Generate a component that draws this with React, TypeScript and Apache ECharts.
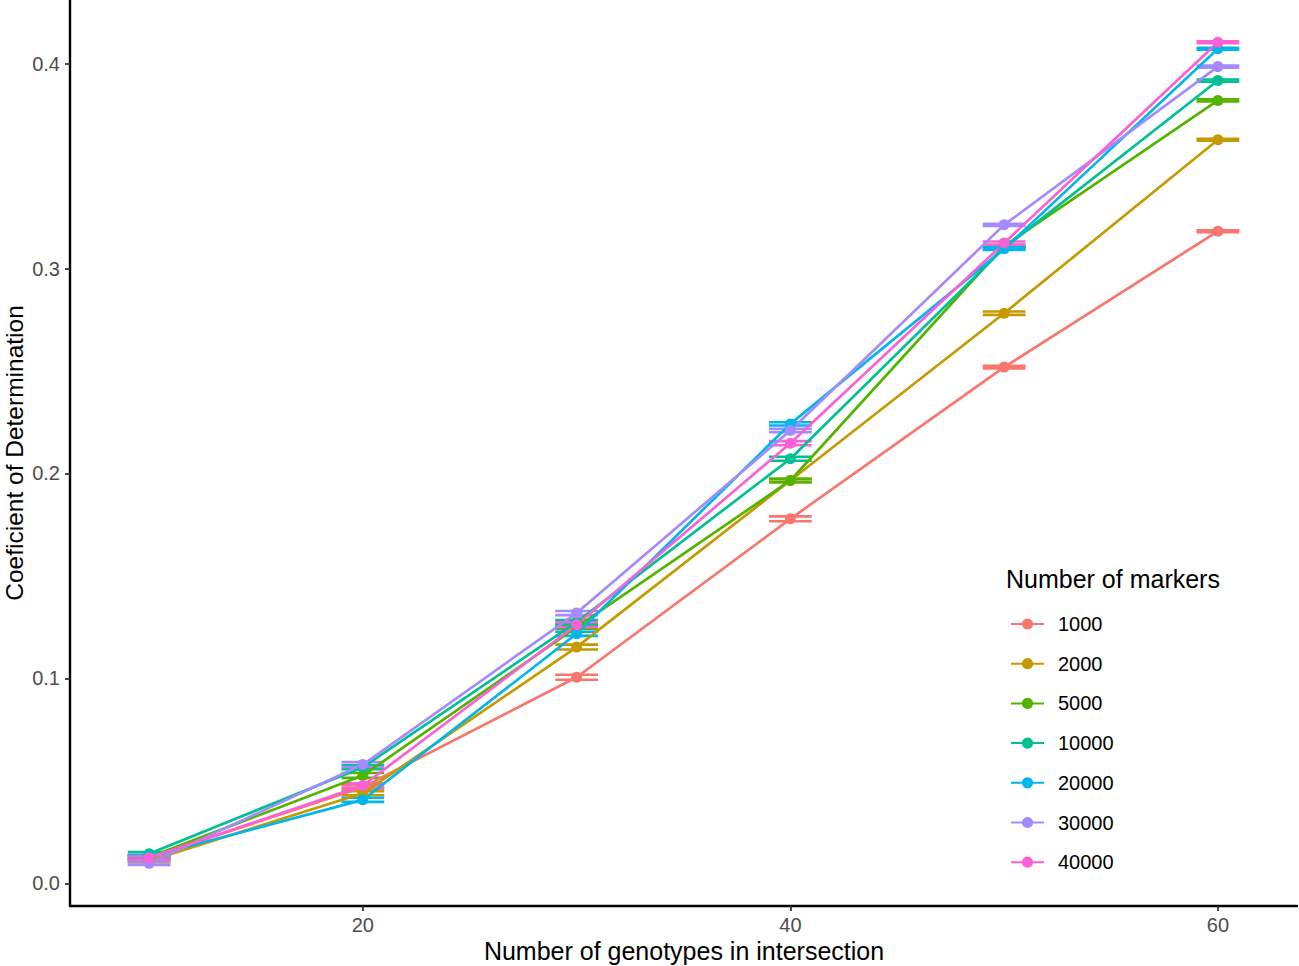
import React, { useEffect, useRef } from "react";
import * as echarts from "echarts";

const xValues = [10, 20, 30, 40, 50, 60];
const markerNames = ["1000", "2000", "5000", "10000", "20000", "30000", "40000"];
const colors = ["#F8766D", "#C49A00", "#53B400", "#00C094", "#00B6EB", "#A58AFF", "#FB61D7"];

const m1000 = [0.0125, 0.047, 0.1006, 0.1779, 0.2519, 0.3182];
const m2000 = [0.011, 0.044, 0.1153, 0.1966, 0.2782, 0.3628];
const m5000 = [0.0128, 0.0527, 0.125, 0.1966, 0.311, 0.382];
const m10000 = [0.0145, 0.0567, 0.1275, 0.2072, 0.31, 0.3917];
const m20000 = [0.013, 0.0408, 0.1218, 0.2242, 0.3096, 0.4072];
const m30000 = [0.0098, 0.058, 0.1319, 0.221, 0.3213, 0.3985];
const m40000 = [0.0125, 0.0478, 0.1262, 0.2148, 0.3124, 0.4104];

const e1000 = [0.0008, 0.001, 0.0012, 0.0012, 0.0006, 0.0005];
const e2000 = [0.0008, 0.001, 0.0012, 0.0008, 0.0008, 0.0005];
const e5000 = [0.0008, 0.0012, 0.0008, 0.0008, 0.0006, 0.0005];
const e10000 = [0.0008, 0.001, 0.001, 0.001, 0.0006, 0.0005];
const e20000 = [0.0008, 0.001, 0.001, 0.0008, 0.0006, 0.0005];
const e30000 = [0.0008, 0.0012, 0.001, 0.0008, 0.0005, 0.0005];
const e40000 = [0.0008, 0.001, 0.0012, 0.001, 0.0008, 0.0005];

const means = [m1000, m2000, m5000, m10000, m20000, m30000, m40000];
const errors = [e1000, e2000, e5000, e10000, e20000, e30000, e40000];

const yTicks = [0, 0.1, 0.2, 0.3, 0.4];
const xTicks = [20, 40, 60];

const FONT = "Liberation Sans, Arial, Helvetica, sans-serif";

export default function App() {
  const ref = useRef<HTMLDivElement>(null);
  useEffect(() => {
    if (!ref.current) return;
    const chart = echarts.init(ref.current, undefined, { renderer: "svg" });

    const errorSeries = markerNames.map((name, i) => ({
      type: "custom",
      name: "eb-" + name,
      data: xValues.map((x, j) => [x, means[i][j] - errors[i][j], means[i][j] + errors[i][j]]),
      z: 1,
      renderItem: (params: any, api: any) => {
        const x = api.value(0);
        const lo = api.value(1);
        const hi = api.value(2);
        const a = api.coord([x - 1, hi]);
        const b = api.coord([x + 1, hi]);
        const c = api.coord([x - 1, lo]);
        const d = api.coord([x + 1, lo]);
        const m1 = api.coord([x, hi]);
        const m2 = api.coord([x, lo]);
        const style = { stroke: colors[i], lineWidth: 2.6, fill: null };
        return {
          type: "group",
          children: [
            { type: "line", shape: { x1: a[0], y1: a[1], x2: b[0], y2: b[1] }, style },
            { type: "line", shape: { x1: c[0], y1: c[1], x2: d[0], y2: d[1] }, style },
            { type: "line", shape: { x1: m1[0], y1: m1[1], x2: m2[0], y2: m2[1] }, style },
          ],
        };
      },
    }));

    const lineSeries = markerNames.map((name, i) => ({
      type: "line",
      name,
      data: xValues.map((x, j) => [x, means[i][j]]),
      symbol: "circle",
      symbolSize: 11,
      showSymbol: true,
      color: colors[i],
      itemStyle: { color: colors[i] },
      lineStyle: { color: colors[i], width: 2.7 },
      z: 2,
    }));

    chart.setOption({
      animation: false,
      backgroundColor: "#ffffff",
      grid: { left: 70, right: 2, top: 0, bottom: 60, containLabel: false },
      xAxis: {
        type: "value",
        min: 6.3,
        max: 63.7,
        splitLine: { show: false },
        axisLine: { show: true, onZero: false, lineStyle: { color: "#000", width: 2.4 } },
        axisTick: { show: true, customValues: xTicks, length: 5, lineStyle: { color: "#333", width: 1.8 } },
        axisLabel: {
          customValues: xTicks,
          margin: 9,
          color: "#4D4D4D",
          fontSize: 20,
          fontFamily: FONT,
        },
      },
      yAxis: {
        type: "value",
        min: -0.011,
        max: 0.431,
        splitLine: { show: false },
        axisLine: { show: true, onZero: false, lineStyle: { color: "#000", width: 2.4 } },
        axisTick: { show: true, customValues: yTicks, length: 5, lineStyle: { color: "#333", width: 1.8 } },
        axisLabel: {
          customValues: yTicks,
          margin: 10,
          color: "#4D4D4D",
          fontSize: 20,
          fontFamily: FONT,
          formatter: (v: number) => v.toFixed(1),
        },
      },
      legend: {
        data: markerNames,
        orient: "vertical",
        left: 1010,
        top: 614,
        padding: 0,
        itemWidth: 33,
        itemHeight: 14,
        itemGap: 19.7,
        textStyle: { fontSize: 20, color: "#000", fontFamily: FONT, padding: [0, 0, 0, 9] },
      },
      graphic: [
        {
          type: "text",
          left: 1006,
          top: 566,
          style: { text: "Number of markers", fontSize: 25, fill: "#000", fontFamily: FONT },
        },
        {
          type: "text",
          x: 684,
          y: 951,
          style: {
            text: "Number of genotypes in intersection",
            fontSize: 25,
            fill: "#000",
            fontFamily: FONT,
            textAlign: "center",
            textVerticalAlign: "middle",
          },
        },
        {
          type: "text",
          x: 14,
          y: 453,
          rotation: Math.PI / 2,
          style: {
            text: "Coeficient of Determination",
            fontSize: 24.5,
            fill: "#000",
            fontFamily: FONT,
            textAlign: "center",
            textVerticalAlign: "middle",
          },
        },
      ],
      series: [...errorSeries, ...lineSeries],
    });

    return () => chart.dispose();
  }, []);

  return (
    <div
      ref={ref}
      style={{ position: "fixed", left: 0, top: 0, width: 1299, height: 966, background: "#fff" }}
    />
  );
}
